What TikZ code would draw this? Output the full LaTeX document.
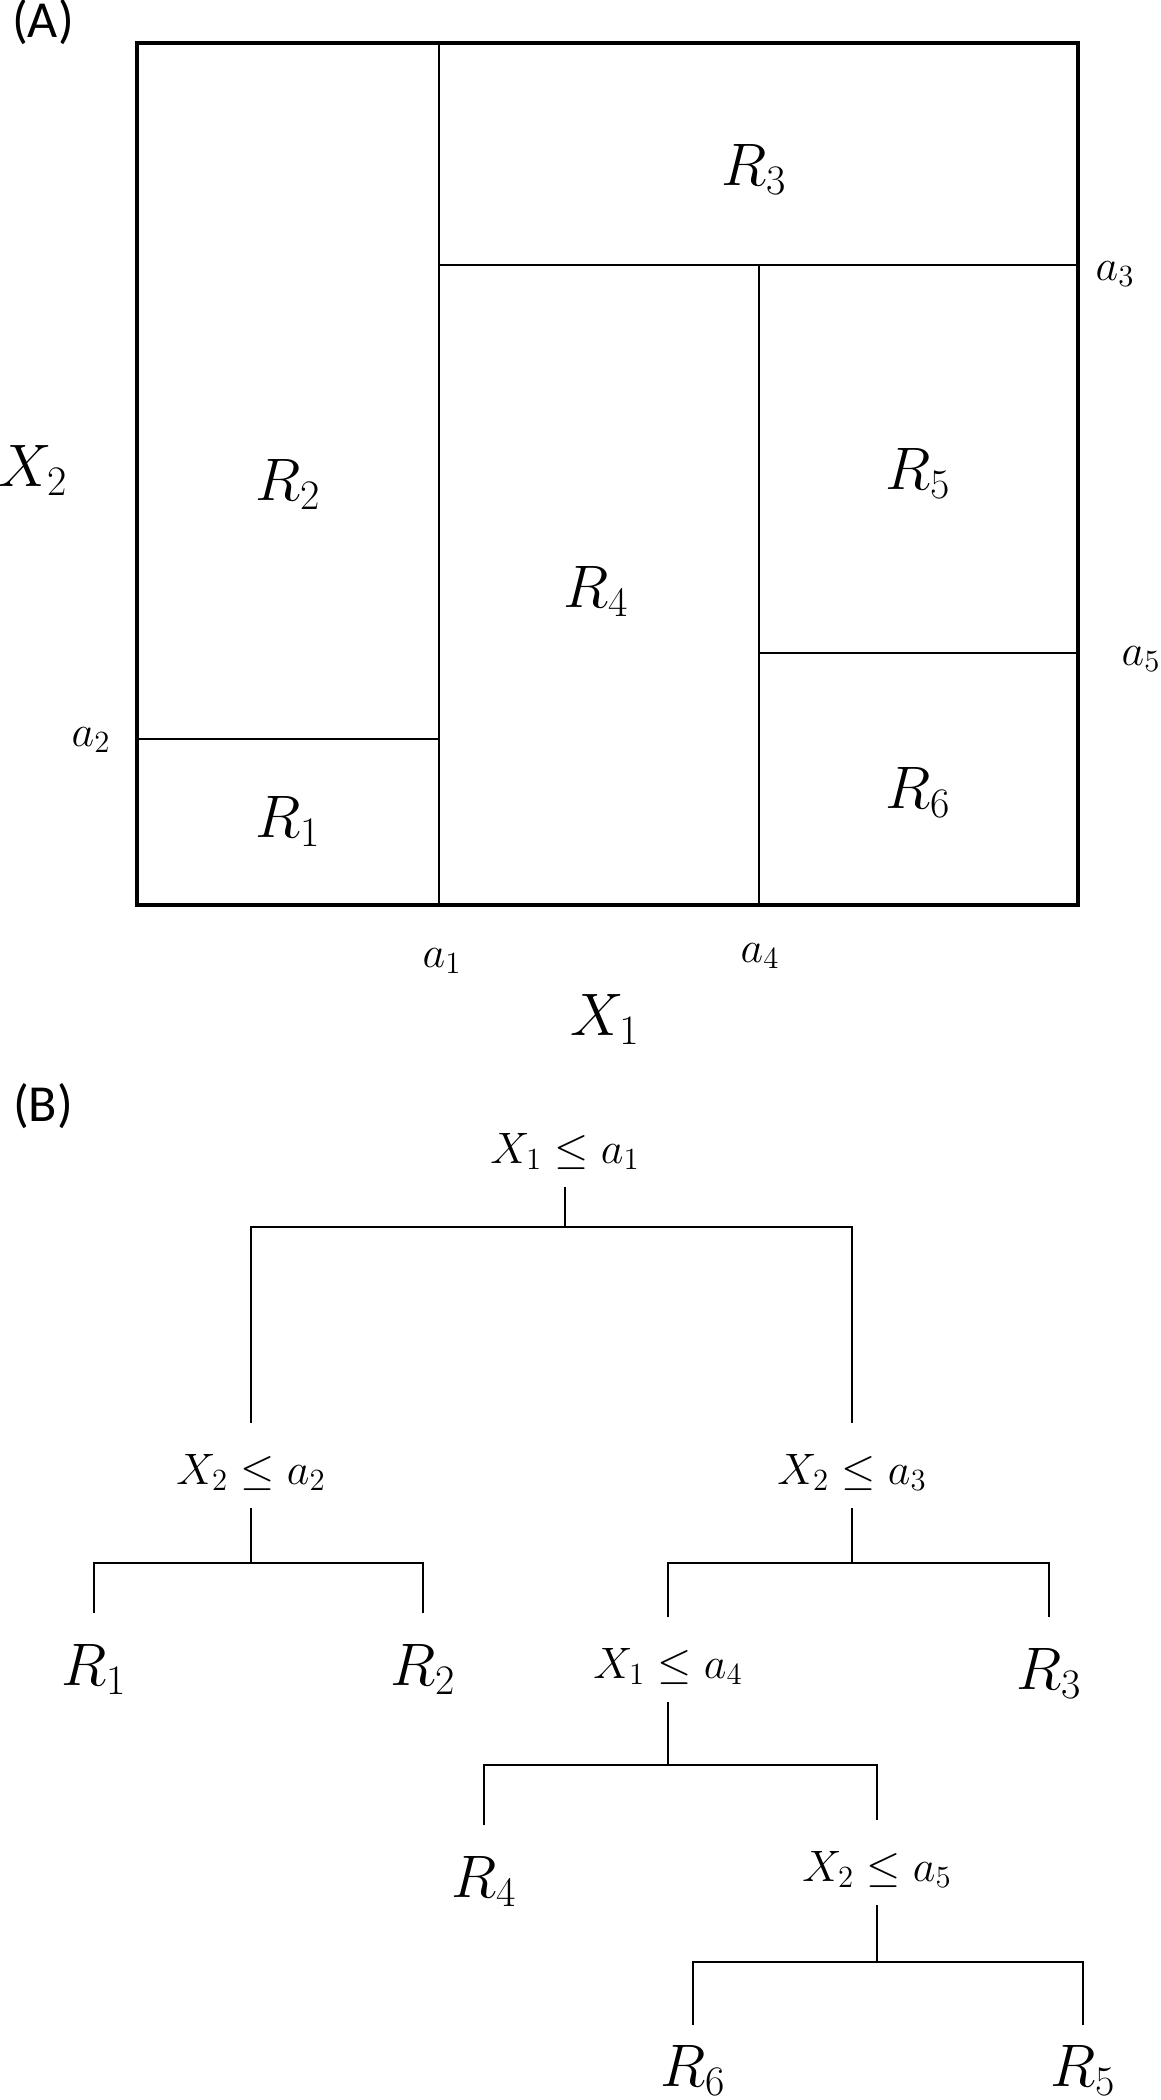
\RequirePackage{fix-cm}
\documentclass[tikz,border=0pt]{standalone}
\usepackage{fontspec}
\newfontfamily\labfont{Carlito}
\begin{document}
\begin{tikzpicture}[x=0.5pt,y=-0.5pt,
  big/.style={font=\fontsize{30}{36}\selectfont, inner sep=0pt, text height=20pt, text depth=5pt},
  leaf/.style={big, minimum height=57pt},
  cond/.style={font=\fontsize{22}{26}\selectfont, inner sep=0pt, text height=15pt, text depth=4pt, minimum height=35pt},
  small/.style={font=\fontsize{22}{26}\selectfont, inner sep=0pt, text height=10pt, text depth=4pt},
  panel/.style={font=\labfont\fontsize{26}{30}\selectfont, inner sep=0pt},
  inner/.style={line width=0.8pt},
  outer/.style={line width=1.9pt},
  tl/.style={line width=0.9pt},
  cshort/.style={shorten >=7.5pt},
  pshort/.style={shorten <=7.5pt}]
\useasboundingbox (0,0) rectangle (1161,2100);

% ---------- (A) partition ----------
\node[panel] (lA) at (43,22) {(A)};
\coordinate (tl) at (137,43);
\coordinate (br) at (1078,905);
\coordinate (a1t) at (439,43);
\coordinate (a1b) at (439,905);
\coordinate (a3l) at (439,265);
\coordinate (a3r) at (1078,265);
\coordinate (a4t) at (759,265);
\coordinate (a4b) at (759,905);
\coordinate (a5l) at (759,653);
\coordinate (a5r) at (1078,653);
\coordinate (a2l) at (137,739);
\coordinate (a2r) at (439,739);
\draw[inner] (a1t) -- (a1b);
\draw[inner] (a3l) -- (a3r);
\draw[inner] (a4t) -- (a4b);
\draw[inner] (a5l) -- (a5r);
\draw[inner] (a2l) -- (a2r);
\draw[outer] (tl) rectangle (br);

\node[big] (pR3) at (754,170) {$R_3$};
\node[big] (pR2) at (288,485) {$R_2$};
\node[big] (pR4) at (596,592) {$R_4$};
\node[big] (pR5) at (918,474) {$R_5$};
\node[big] (pR6) at (918,793) {$R_6$};
\node[big] (pR1) at (288,822) {$R_1$};

\node[small] (la3) at (1115,274) {$a_3$};
\node[small] (la5) at (1141,659) {$a_5$};
\node[small] (la2) at (91,740) {$a_2$};
\node[small] (la1) at (442,961) {$a_1$};
\node[small] (la4) at (760,956) {$a_4$};
\node[big] (lX2) at (33,471) {$X_2$};
\node[big] (lX1) at (605,1020) {$X_1$};

% ---------- (B) tree ----------
\node[panel] (lB) at (43,1106) {(B)};
\node[cond] (root) at (565,1152) {$X_1 \leq a_1$};
\node[cond] (c2) at (251,1473) {$X_2 \leq a_2$};
\node[cond] (c3) at (852,1473) {$X_2 \leq a_3$};
\node[leaf] (R1) at (94,1670) {$R_1$};
\node[leaf] (R2) at (423,1670) {$R_2$};
\node[cond] (c4) at (668,1667) {$X_1 \leq a_4$};
\node[leaf] (R3) at (1049,1674) {$R_3$};
\node[leaf] (R4) at (484,1882) {$R_4$};
\node[cond] (c5) at (877,1870) {$X_2 \leq a_5$};
\node[leaf, minimum height=46pt] (R6) at (693,2071) {$R_6$};
\node[leaf, minimum height=46pt] (R5) at (1083,2071) {$R_5$};

\coordinate (b0) at (565,1227);
\coordinate (b2) at (251,1563);
\coordinate (b3) at (852,1563);
\coordinate (b4) at (668,1765);
\coordinate (b5) at (877,1962);

\draw[tl] (root.south) -- (b0);
\draw[tl, pshort, cshort] (c2.north) |- (b0) -| (c3.north);
\draw[tl] (c2.south) -- (b2);
\draw[tl] (R1.north) |- (b2) -| (R2.north);
\draw[tl] (c3.south) -- (b3);
\draw[tl, pshort] (c4.north) |- (b3) -| (R3.north);
\draw[tl] (c4.south) -- (b4);
\draw[tl, cshort] (R4.north) |- (b4) -| (c5.north);
\draw[tl] (c5.south) -- (b5);
\draw[tl] (R6.north) |- (b5) -| (R5.north);
\end{tikzpicture}
\end{document}
